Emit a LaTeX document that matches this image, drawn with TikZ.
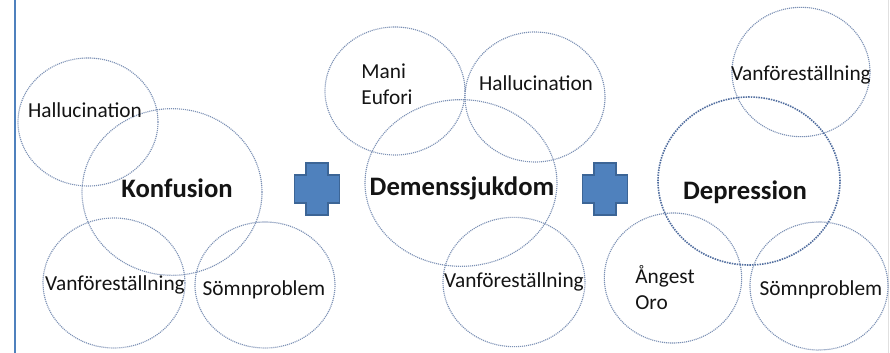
\documentclass[tikz,border=0pt]{standalone}
\usepackage{fontspec}
\setmainfont{Carlito}
\usetikzlibrary{shapes.geometric}

\definecolor{ringblue}{HTML}{7B90B5}
\definecolor{ringdark}{HTML}{4F6C9E}
\definecolor{plusfill}{HTML}{4F81BD}
\definecolor{plusedge}{HTML}{3C6596}
\definecolor{edgeblue}{HTML}{4F81BD}
\definecolor{inktext}{HTML}{141414}

\tikzset{
  bubble/.style={ellipse, draw=ringblue, line width=0.85pt,
    dash pattern=on 0.8pt off 0.7pt, inner sep=0pt, outer sep=0pt},
  bigbubble/.style={ellipse, draw=ringdark, line width=1.2pt,
    dash pattern=on 1.1pt off 0.8pt, inner sep=0pt, outer sep=0pt},
  lbl/.style={text=inktext, font=\fontsize{16}{19.5}\selectfont, inner sep=0pt},
  hub/.style={text=inktext, font=\fontsize{20}{24}\selectfont\bfseries, inner sep=0pt},
  plussign/.pic={
    \fill[plusfill, draw=plusedge, line width=0.8pt]
      (-11,-26) -- (11,-26) -- (11,-14) -- (22.5,-14) -- (22.5,14)
      -- (11,14) -- (11,26) -- (-11,26) -- (-11,14) -- (-22.5,14)
      -- (-22.5,-14) -- (-11,-14) -- cycle;
  }
}

\begin{document}
\begin{tikzpicture}[x=0.75pt, y=-0.75pt]
  \useasboundingbox (0,0) rectangle (890,353);
  \fill[white] (0,0) rectangle (890,353);

  % frame edges
  \draw[edgeblue, line width=1.6pt] (15,0) -- (15,353);
  \draw[black!12, line width=0.6pt] (888,0) -- (888,353);

  % Konfusion cluster
  \node[bubble, minimum width=105pt, minimum height=96pt] (kHallC) at (88,122) {};
  \node[bubble, minimum width=135pt, minimum height=125pt] (konfC) at (172,192) {};
  \node[bubble, minimum width=106.5pt, minimum height=97.5pt] (kVanC) at (114,283) {};
  \node[bubble, minimum width=105pt, minimum height=94.5pt] (kSomnC) at (265,285) {};
  \node[lbl] (kHall) at (85,110) {Hallucination};
  \node[hub] (konf) at (177,188) {Konfusion};
  \node[lbl] (kVan) at (115,285) {Vanföreställning};
  \node[lbl] (kSomn) at (264,290) {Sömnproblem};

  % Demenssjukdom cluster
  \node[bubble, minimum width=105pt, minimum height=96pt] (maniC) at (395,91) {};
  \node[bubble, minimum width=105pt, minimum height=97.5pt] (dHallC) at (535,97) {};
  \node[bubble, minimum width=144pt, minimum height=125pt] (demC) at (461,183) {};
  \node[bubble, minimum width=106.5pt, minimum height=97pt] (dVanC) at (514,282) {};
  \node[lbl, align=left] (mani) at (387,84) {Mani\\Eufori};
  \node[lbl] (dHall) at (536,83) {Hallucination};
  \node[hub] (dem) at (462,188) {Demenssjukdom};
  \node[lbl] (dVan) at (514,282) {Vanföreställning};

  % Depression cluster
  \node[bubble, minimum width=103.5pt, minimum height=97pt] (rVanC) at (801,72) {};
  \node[bigbubble, minimum width=136.5pt, minimum height=126pt] (depC) at (749,181) {};
  \node[bubble, minimum width=103pt, minimum height=97.5pt] (angC) at (673,278) {};
  \node[bubble, minimum width=103.5pt, minimum height=96pt] (rSomnC) at (819,286) {};
  \node[lbl] (rVan) at (801,75) {Vanföreställning};
  \node[hub] (dep) at (745,192) {Depression};
  \node[lbl, align=left] (ang) at (665,288) {Ångest\\Oro};
  \node[lbl] (rSomn) at (821,290) {Sömnproblem};

  % plus signs between the clusters
  \pic at (317,189) {plussign};
  \pic at (605,189) {plussign};
\end{tikzpicture}
\end{document}
